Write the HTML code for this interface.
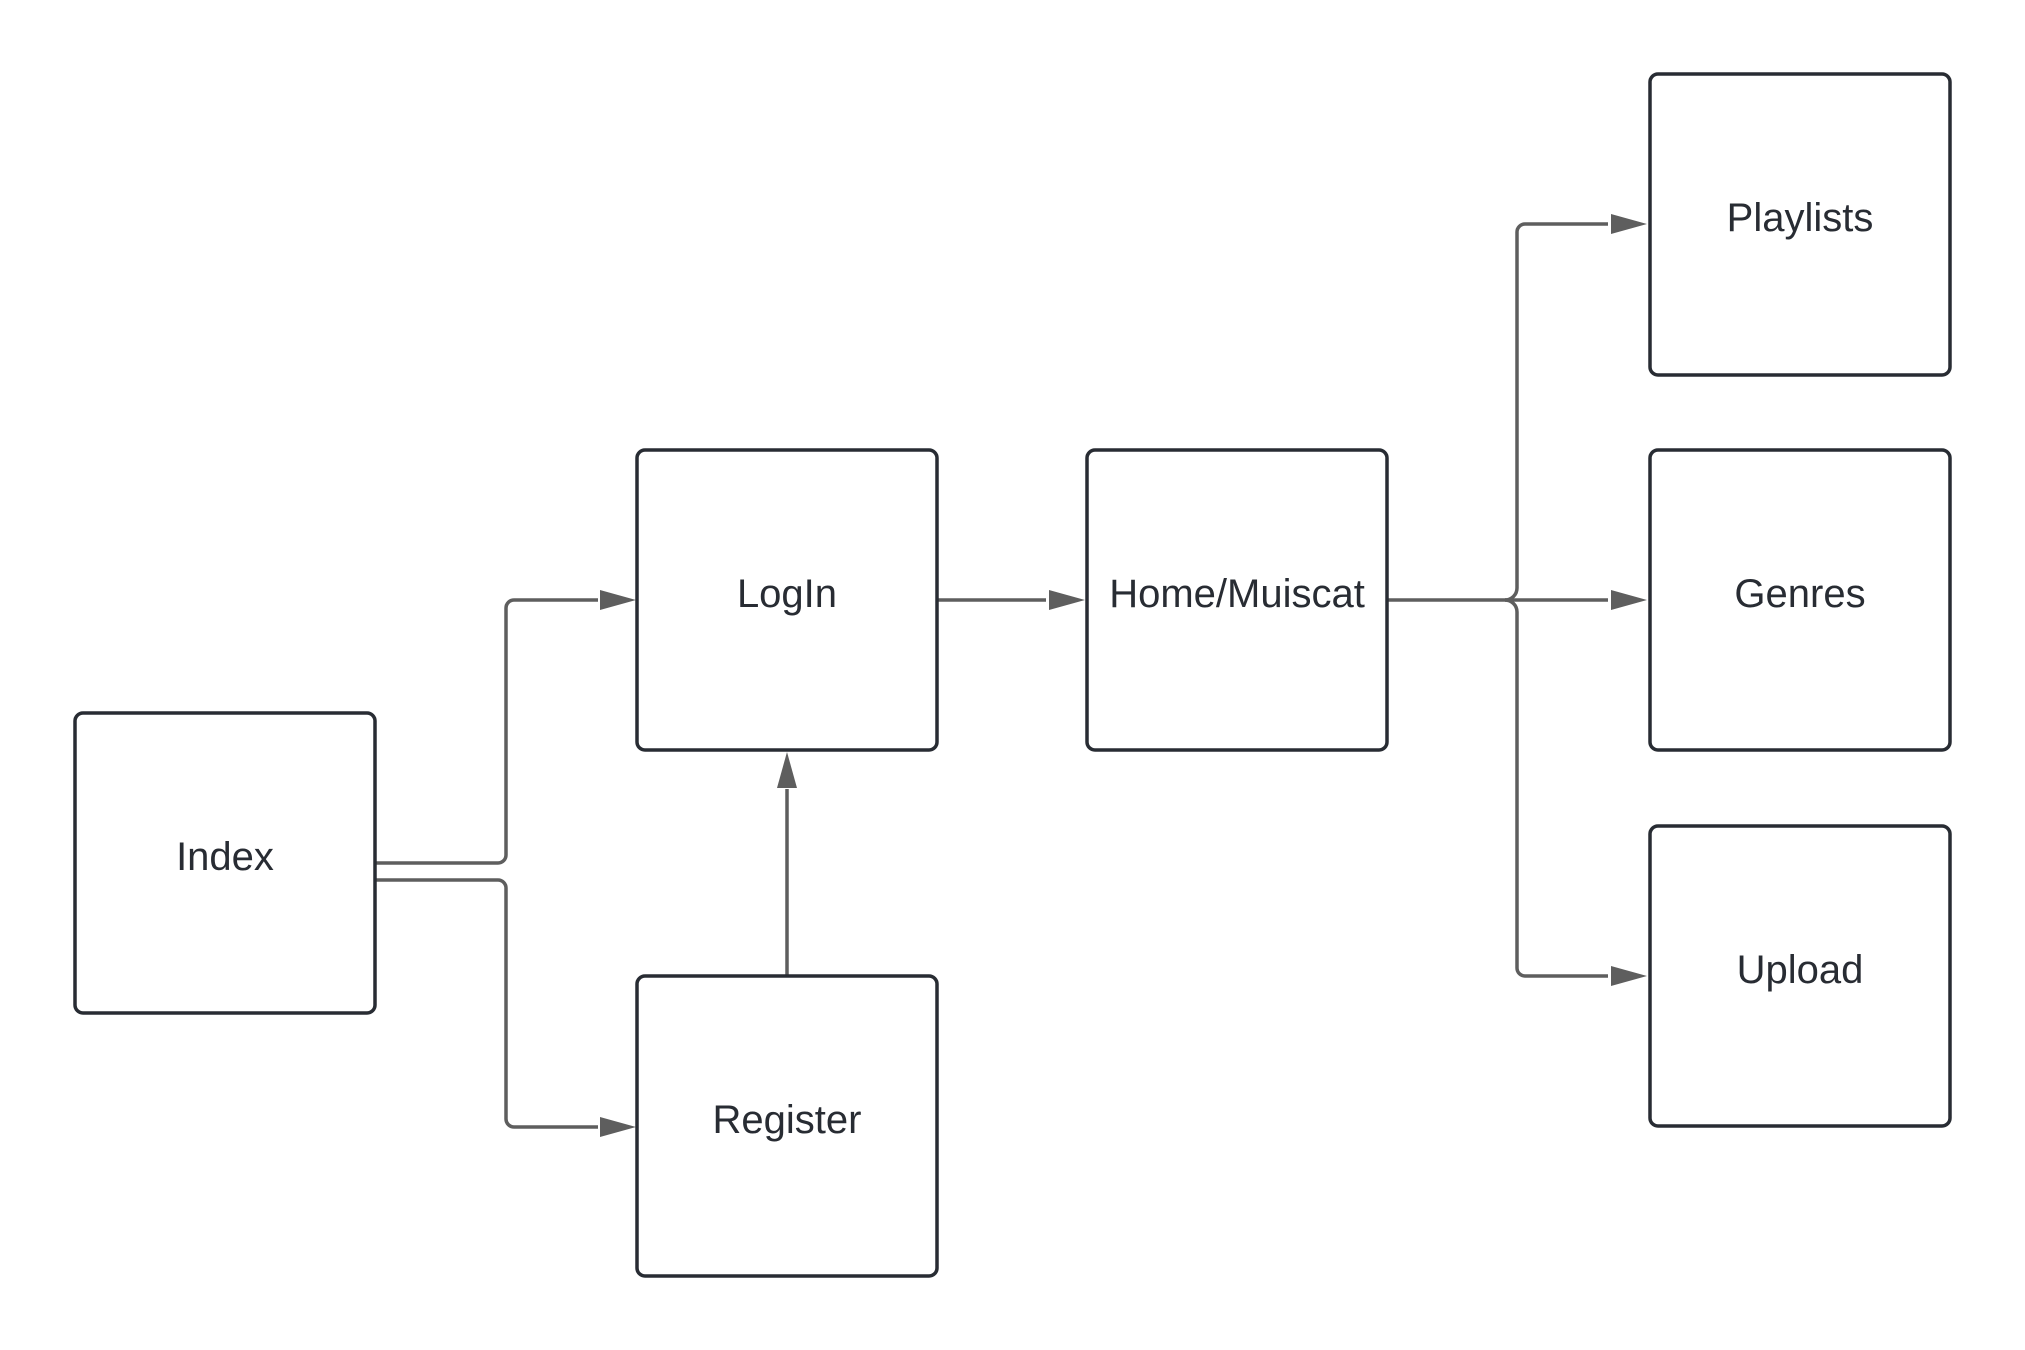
<!DOCTYPE html>
<html><head><meta charset="utf-8"><style>
html,body{margin:0;padding:0;background:#fff;}
svg{display:block;}
text{font-family:"Liberation Sans",sans-serif;font-size:40px;fill:#282c33;text-anchor:middle;dominant-baseline:central;}
</style></head><body>
<svg width="2025" height="1350" viewBox="0 0 2025 1350" xmlns="http://www.w3.org/2000/svg">
<g fill="none" stroke="#5e5e5e" stroke-width="3.5">
<path d="M376 863 H498 a8 8 0 0 0 8 -8 V608 a8 8 0 0 1 8 -8 H598"/>
<path d="M376 880 H498 a8 8 0 0 1 8 8 V1119 a8 8 0 0 0 8 8 H598"/>
<path d="M787 976 V789"/>
<path d="M938 600 H1046"/>
<path d="M1388 600 H1608"/>
<path d="M1505 600 a12 12 0 0 0 12 -12 V232 a8 8 0 0 1 8 -8 H1608"/>
<path d="M1505 600 a12 12 0 0 1 12 12 V968 a8 8 0 0 0 8 8 H1608"/>
</g>
<g fill="#5e5e5e">
<polygon points="636,600 600,590 600,610"/>
<polygon points="636,1127 600,1117 600,1137"/>
<polygon points="787,752 777,788 797,788"/>
<polygon points="1085,600 1049,590 1049,610"/>
<polygon points="1647,224 1611,214 1611,234"/>
<polygon points="1647,600 1611,590 1611,610"/>
<polygon points="1647,976 1611,966 1611,986"/>
</g>
<g fill="#fff" stroke="#282c33" stroke-width="3.5">
<rect x="75" y="713" width="300" height="300" rx="8"/>
<rect x="637" y="450" width="300" height="300" rx="8"/>
<rect x="637" y="976" width="300" height="300" rx="8"/>
<rect x="1087" y="450" width="300" height="300" rx="8"/>
<rect x="1650" y="74" width="300" height="301" rx="8"/>
<rect x="1650" y="450" width="300" height="300" rx="8"/>
<rect x="1650" y="826" width="300" height="300" rx="8"/>
</g>
<text x="225" y="857">Index</text>
<text x="787" y="594">LogIn</text>
<text x="787" y="1120">Register</text>
<text x="1237" y="594">Home/Muiscat</text>
<text x="1800" y="218">Playlists</text>
<text x="1800" y="594">Genres</text>
<text x="1800" y="970">Upload</text>
</svg>
</body></html>
